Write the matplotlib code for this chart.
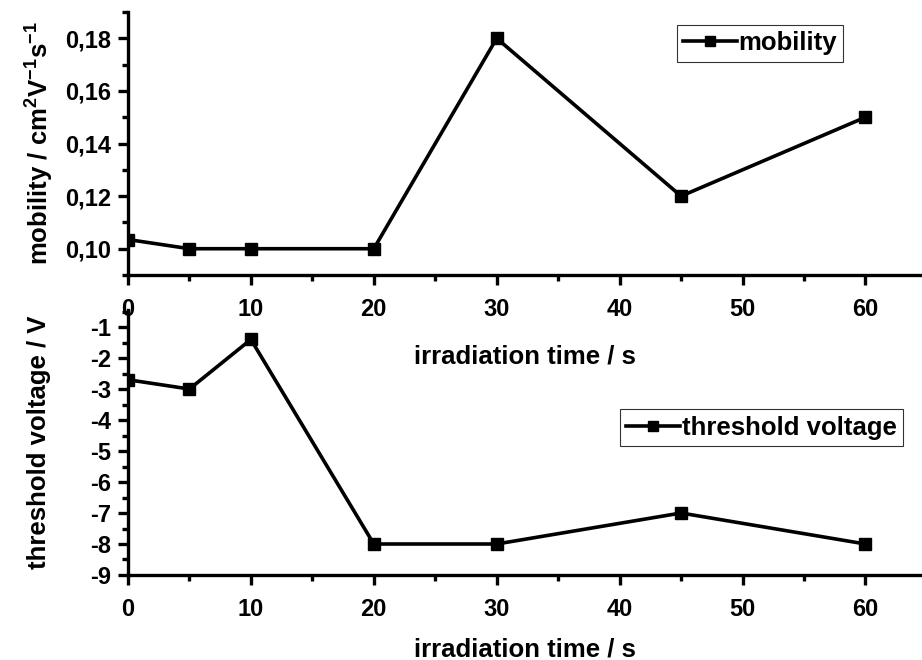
import matplotlib
matplotlib.use("Agg")
import matplotlib.pyplot as plt
from matplotlib.ticker import MultipleLocator, FuncFormatter

plt.rcParams["font.family"] = ["Liberation Sans", "DejaVu Sans"]
plt.rcParams["font.weight"] = "bold"
plt.rcParams["mathtext.fontset"] = "custom"
plt.rcParams["mathtext.bf"] = "Liberation Sans:bold"
plt.rcParams["mathtext.rm"] = "Liberation Sans:bold"

time_s = [0, 5, 10, 20, 30, 45, 60]
mobility = [0.1035, 0.100, 0.100, 0.100, 0.180, 0.120, 0.150]
threshold = [-2.7, -3.0, -1.4, -8.0, -8.0, -7.0, -8.0]

fig = plt.figure(figsize=(9.22, 6.6), dpi=100)
ax2 = fig.add_axes([0.1388, 0.1288, 0.8612, 0.4015])
ax1 = fig.add_axes([0.1388, 0.5833, 0.8612, 0.3985])
ax1.patch.set_alpha(0)
ax2.patch.set_alpha(0)


def style(ax):
    for s in ["top", "right"]:
        ax.spines[s].set_visible(False)
    for s in ["left", "bottom"]:
        ax.spines[s].set_linewidth(2.4)
    ax.tick_params(which="major", direction="out", length=7, width=2.4, labelsize=17)
    ax.tick_params(which="minor", direction="out", length=4, width=2.4)
    ax.tick_params(axis="y", pad=5)
    ax.tick_params(axis="x", pad=9.5)
    ax.set_xlim(0, 64.6)
    ax.xaxis.set_major_locator(MultipleLocator(10))
    ax.xaxis.set_minor_locator(MultipleLocator(5))
    for lab in ax.get_xticklabels() + ax.get_yticklabels():
        lab.set_fontweight("bold")


def add_legend(ax, anchor):
    leg = ax.legend(loc="upper left", bbox_to_anchor=anchor, fontsize=18.5, frameon=True,
                    fancybox=False, edgecolor="black", handlelength=2.1, handletextpad=0.05,
                    borderpad=0.25, borderaxespad=0, markerscale=0.8)
    leg.get_frame().set_linewidth(0.8)


ax1.plot(time_s, mobility, color="black", lw=2.6, marker="s", ms=8.5, label="mobility")
style(ax1)
ax1.set_ylim(0.09, 0.19)
ax1.yaxis.set_major_locator(MultipleLocator(0.02))
ax1.yaxis.set_minor_locator(MultipleLocator(0.01))
ax1.yaxis.set_major_formatter(FuncFormatter(lambda v, p: f"{v:.2f}".replace(".", ",")))
ax1.set_ylabel(r"mobility / cm$^{2}$V$^{-1}$s$^{-1}$", fontsize=18.5,
               fontweight="bold", labelpad=7)
ax1.set_xlabel("irradiation time / s", fontsize=18.5, fontweight="bold", labelpad=17)
add_legend(ax1, (0.691, 0.951))

ax2.plot(time_s, threshold, color="black", lw=2.6, marker="s", ms=8.5, label="threshold voltage")
style(ax2)
ax2.set_ylim(-9, -0.45)
ax2.yaxis.set_major_locator(MultipleLocator(1))
ax2.yaxis.set_minor_locator(MultipleLocator(0.5))
ax2.yaxis.set_major_formatter(FuncFormatter(lambda v, p: f"{v:.0f}"))
ax2.set_ylabel("threshold voltage / V", fontsize=18.5, fontweight="bold", labelpad=28)
ax2.set_xlabel("irradiation time / s", fontsize=18.5, fontweight="bold", labelpad=12)
add_legend(ax2, (0.6196, 0.626))

fig.savefig("out.png", dpi=100)
